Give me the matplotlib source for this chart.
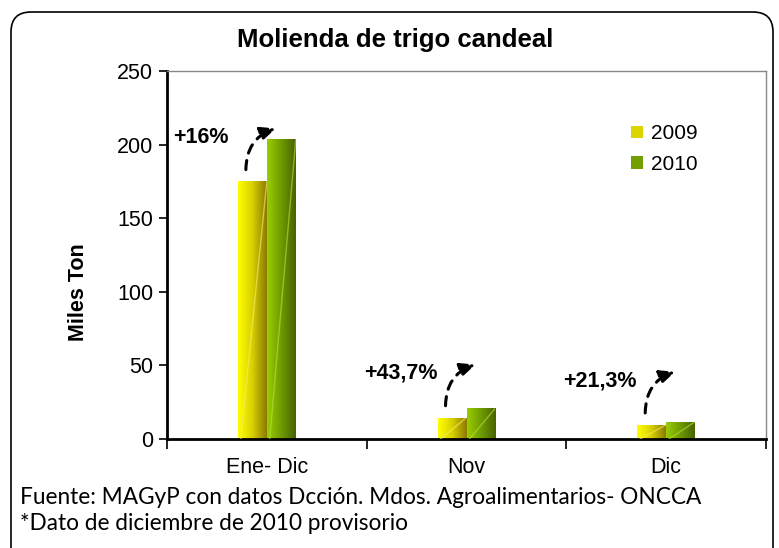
import numpy as np
import matplotlib
matplotlib.use('Agg')
import matplotlib.pyplot as plt
from matplotlib.patches import FancyBboxPatch, Patch
from matplotlib.colors import LinearSegmentedColormap
from matplotlib.transforms import IdentityTransform

# Data
categories = ['Ene- Dic', 'Nov', 'Dic']
series_names = ['2009', '2010']
values_2009 = [175, 14.6, 9.7]
values_2010 = [203.5, 21.0, 11.8]
changes = ['+16%', '+43,7%', '+21,3%']

title = 'Molienda de trigo candeal'
ylabel = 'Miles Ton'
notes = ['Fuente: MAGyP con datos Dcción. Mdos. Agroalimentarios- ONCCA',
         '*Dato de diciembre de 2010 provisorio']

plt.rcParams['font.family'] = ['Liberation Sans', 'DejaVu Sans']

fig = plt.figure(figsize=(7.79, 5.48), dpi=100)
ax = fig.add_axes([167 / 779, 1 - 439 / 548, 599 / 779, 368 / 548])

# gradient colour maps (light left -> dark right)
cmaps = [
    LinearSegmentedColormap.from_list('y', ['#ffff00', '#d8d000', '#8c7a00']),
    LinearSegmentedColormap.from_list('g', ['#9acd00', '#6f9a00', '#476300']),
]
highlight = ['#f4f070', '#b8e040']
grad = np.linspace(0, 1, 64).reshape(1, -1)

x = np.arange(len(categories))
w = 0.145
for k, vals in enumerate([values_2009, values_2010]):
    left = x - w + k * w
    bars = ax.bar(left, vals, width=w, align='edge', color='none', edgecolor='none')
    for b in bars:
        x0, y0 = b.get_x(), b.get_y()
        bw, bh = b.get_width(), b.get_height()
        im = ax.imshow(grad, cmap=cmaps[k], aspect='auto', interpolation='bilinear',
                       extent=[x0, x0 + bw, y0, y0 + bh], zorder=2)
        im.set_clip_path(b)
        # faint diagonal sheen
        ln, = ax.plot([x0 + 0.1 * bw, x0 + bw], [y0, y0 + bh], color=highlight[k],
                      lw=1, alpha=0.6, zorder=3)
        ln.set_clip_path(b)

# dashed curved arrows with change labels
for i, (v, lab) in enumerate(zip(values_2009, changes)):
    ty = v + 8
    ax.annotate('', xy=(i + 0.045, ty + 28), xytext=(i - 0.105, ty),
                arrowprops=dict(arrowstyle='-|>,head_length=0.9,head_width=0.4',
                                color='black', lw=2.2, linestyle=(0, (3, 2.5)),
                                connectionstyle='arc3,rad=-0.35', shrinkA=0, shrinkB=0),
                zorder=4)
    ax.text(i - 0.33, ty + 22, lab, ha='center', va='center', fontsize=15.5,
            fontweight='bold')

ax.set_xlim(-0.5, len(categories) - 0.5)
ax.set_ylim(0, 250)
ax.set_yticks(range(0, 251, 50))
ax.set_xticks(x)
ax.set_xticklabels(categories)
ax.set_xticks(np.arange(len(categories) + 1) - 0.5, minor=True)
ax.tick_params(axis='x', which='major', length=0, labelsize=15.5, pad=13)
ax.tick_params(axis='x', which='minor', length=7, width=1.2)
ax.tick_params(axis='y', length=6, width=1.2, labelsize=15.5, pad=4)

for s in ['top', 'right']:
    ax.spines[s].set_color('#888888')
    ax.spines[s].set_linewidth(1)
for s in ['left', 'bottom']:
    ax.spines[s].set_color('black')
    ax.spines[s].set_linewidth(2)

ax.set_ylabel(ylabel, fontsize=15.5, fontweight='bold')
ax.yaxis.set_label_coords(-0.13, 0.40)

handles = [Patch(facecolor=cmaps[k](0.45), edgecolor='none') for k in range(2)]
ax.legend(handles, series_names, loc='upper left', bbox_to_anchor=(0.744, 0.906),
          frameon=False, fontsize=15, handlelength=0.55, handleheight=0.55,
          handletextpad=0.4, labelspacing=0.55)

fig.text(395 / 779, 1 - 40 / 548, title, ha='center', va='center',
         fontsize=18.5, fontweight='bold')

for j, line in enumerate(notes):
    fig.text(20 / 779, 1 - (497 + 27 * j) / 548, line, ha='left', va='center',
             fontsize=16.3, family=['Lato', 'DejaVu Sans'])

# rounded outer frame (pixels)
frame = FancyBboxPatch((11, -30), 762, 548 - 12 + 30, boxstyle='round,pad=0,rounding_size=20',
                       transform=IdentityTransform(), facecolor='none',
                       edgecolor='black', linewidth=1.2)
fig.patches.append(frame)

fig.savefig('out.png', dpi=100)
